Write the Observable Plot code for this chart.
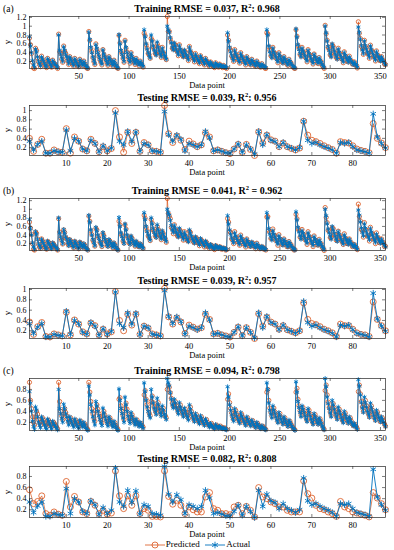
<!DOCTYPE html>
<html><head><meta charset="utf-8">
<script src="https://cdn.jsdelivr.net/npm/d3@7"></script>
<script src="https://cdn.jsdelivr.net/npm/@observablehq/plot@0.6"></script>
<style>
body{margin:0;background:#fff;}
#root{position:relative;width:394px;height:550px;font-family:"Liberation Serif","Times New Roman",serif;color:#000;}
#root svg text{font-family:"Liberation Serif","Times New Roman",serif !important;}
.panel{position:absolute;left:0;}
.title{position:absolute;left:29px;width:356px;text-align:center;font-weight:bold;font-size:10px;line-height:12px;white-space:nowrap;}
.title sup{font-size:6.5px;line-height:0;}
.tag{position:absolute;left:3px;font-size:9.5px;line-height:12px;}
.xlab{position:absolute;left:29px;width:356px;text-align:center;font-size:8.5px;line-height:10px;}
.ylab{position:absolute;left:2px;width:10px;height:10px;font-size:9px;line-height:10px;text-align:center;transform:rotate(-90deg);}
.legend{position:absolute;top:539px;left:0;width:394px;text-align:center;font-size:9px;line-height:11px;white-space:nowrap;}
.legend svg{vertical-align:middle;}
</style></head>
<body><div id="root"></div>
<script>
// ---- Data ----
const trainActual = [
0.76,0.55,0.40,0.22,0.12,0.07,0.48,0.42,0.30,0.20,0.14,0.10,0.30,0.25,0.20,0.15,0.10,0.08,0.26,0.22,0.17,0.12,0.08,0.22,0.18,0.15,0.12,0.09,0.06,
0.80,0.45,0.36,0.27,0.20,0.53,0.45,0.36,0.30,0.22,0.15,0.30,0.25,0.20,0.15,0.11,0.26,0.21,0.16,0.12,0.09,0.24,0.20,0.15,0.11,0.20,0.15,0.10,0.07,0.05,
0.86,0.70,0.52,0.40,0.30,0.22,0.15,0.58,0.50,0.40,0.32,0.25,0.19,0.14,0.46,0.37,0.30,0.24,0.18,0.13,0.30,0.25,0.20,0.15,0.11,0.22,0.16,0.11,0.07,0.05,
0.81,0.60,0.45,0.36,0.28,0.20,0.66,0.52,0.40,0.31,0.24,0.18,0.38,0.31,0.25,0.20,0.15,0.26,0.21,0.16,0.12,0.20,0.16,0.12,0.09,
0.92,0.76,0.60,0.48,0.40,0.33,0.28,0.80,0.66,0.55,0.46,0.40,0.34,0.64,0.52,0.44,0.37,0.31,0.50,0.42,0.35,0.30,0.25,
1.00,0.92,0.86,0.74,0.62,0.52,0.46,0.62,0.55,0.47,0.41,0.35,0.56,0.48,0.42,0.36,0.30,0.46,0.40,0.34,0.29,0.24,0.52,0.44,0.37,0.31,0.26,0.21,0.36,0.31,0.26,0.21,0.17,0.32,0.27,0.22,0.18,0.14,0.26,0.22,0.18,0.14,0.11,0.18,0.15,0.12,0.10,0.08,0.16,0.13,0.11,0.09,0.13,0.11,0.09,0.08,0.10,0.08,0.07,0.06,
0.85,0.66,0.52,0.42,0.34,0.27,0.22,0.45,0.38,0.32,0.27,0.22,0.18,0.38,0.32,0.27,0.22,0.18,0.14,0.30,0.25,0.21,0.17,0.13,0.24,0.20,0.16,0.13,0.10,0.20,0.16,0.13,0.10,0.08,0.14,0.11,0.09,0.07,0.06,
0.92,0.80,0.55,0.42,0.35,0.28,0.50,0.42,0.36,0.30,0.24,0.19,0.38,0.32,0.26,0.21,0.16,0.30,0.25,0.20,0.16,0.12,0.24,0.20,0.16,0.12,0.09,0.07,0.05,
0.94,0.75,0.58,0.47,0.38,0.30,0.50,0.44,0.38,0.32,0.26,0.21,0.45,0.38,0.32,0.26,0.21,0.16,0.36,0.30,0.25,0.20,0.16,0.28,0.23,0.18,0.13,0.09,0.06,
1.00,0.85,0.66,0.54,0.45,0.37,0.30,0.60,0.52,0.44,0.37,0.31,0.25,0.48,0.41,0.35,0.29,0.24,0.19,0.40,0.34,0.28,0.23,0.18,0.30,0.25,0.20,0.16,0.13,0.18,0.14,0.10,0.07,
0.98,0.86,0.70,0.56,0.46,0.38,0.66,0.56,0.48,0.41,0.35,0.29,0.55,0.47,0.40,0.34,0.28,0.23,0.42,0.36,0.30,0.25,0.21,0.30,0.25,0.20,0.16,0.12];

const trainPredA = [
0.73,0.58,0.38,0.18,0.05,0.04,0.50,0.45,0.28,0.19,0.13,0.08,0.32,0.24,0.19,0.14,0.09,0.06,0.27,0.21,0.16,0.11,0.07,0.23,0.17,0.14,0.11,0.08,0.04,
0.82,0.42,0.38,0.25,0.18,0.55,0.43,0.38,0.28,0.21,0.13,0.31,0.24,0.19,0.14,0.09,0.27,0.20,0.15,0.11,0.08,0.25,0.19,0.14,0.10,0.21,0.14,0.09,0.05,0.04,
0.88,0.68,0.50,0.42,0.29,0.20,0.13,0.60,0.48,0.41,0.31,0.24,0.18,0.12,0.47,0.36,0.29,0.23,0.17,0.11,0.31,0.24,0.19,0.14,0.09,0.23,0.15,0.10,0.06,0.04,
0.79,0.62,0.43,0.37,0.27,0.18,0.68,0.50,0.41,0.30,0.23,0.16,0.40,0.30,0.24,0.19,0.13,0.27,0.20,0.15,0.10,0.21,0.15,0.11,0.07,
0.84,0.78,0.58,0.50,0.38,0.35,0.27,0.72,0.68,0.53,0.48,0.38,0.36,0.60,0.54,0.42,0.39,0.29,0.52,0.40,0.37,0.28,0.24,
1.22,0.88,0.88,0.72,0.64,0.50,0.48,0.60,0.57,0.45,0.43,0.33,0.58,0.46,0.44,0.34,0.31,0.44,0.42,0.32,0.30,0.22,0.54,0.42,0.39,0.29,0.27,0.19,0.38,0.29,0.27,0.19,0.15,0.33,0.25,0.23,0.16,0.12,0.27,0.20,0.19,0.12,0.09,0.19,0.13,0.11,0.08,0.06,0.17,0.11,0.10,0.07,0.14,0.09,0.08,0.06,0.11,0.07,0.06,0.04,
0.80,0.68,0.50,0.44,0.32,0.28,0.20,0.47,0.36,0.33,0.25,0.23,0.16,0.40,0.30,0.28,0.20,0.19,0.12,0.31,0.23,0.22,0.15,0.12,0.25,0.18,0.17,0.11,0.09,0.21,0.14,0.14,0.08,0.07,0.15,0.09,0.08,0.05,0.04,
0.85,0.82,0.53,0.45,0.33,0.30,0.52,0.40,0.38,0.28,0.26,0.17,0.40,0.30,0.28,0.19,0.17,0.31,0.23,0.21,0.14,0.11,0.25,0.18,0.17,0.10,0.08,0.05,0.04,
0.92,0.77,0.56,0.49,0.36,0.32,0.52,0.42,0.40,0.30,0.28,0.19,0.47,0.36,0.34,0.24,0.22,0.14,0.37,0.28,0.26,0.18,0.15,0.29,0.21,0.19,0.11,0.08,0.04,
1.02,0.83,0.68,0.52,0.47,0.35,0.32,0.58,0.54,0.42,0.39,0.29,0.26,0.50,0.39,0.37,0.27,0.25,0.17,0.42,0.32,0.30,0.21,0.19,0.32,0.23,0.21,0.14,0.14,0.19,0.12,0.11,0.05,
1.10,0.84,0.72,0.54,0.48,0.36,0.68,0.54,0.50,0.39,0.37,0.27,0.57,0.45,0.42,0.32,0.30,0.21,0.44,0.34,0.32,0.23,0.22,0.31,0.23,0.21,0.14,0.13];

const trainPredB = [
0.70,0.56,0.41,0.20,0.07,0.05,0.47,0.44,0.31,0.18,0.12,0.09,0.31,0.26,0.18,0.13,0.10,0.07,0.25,0.23,0.15,0.11,0.09,0.21,0.19,0.13,0.12,0.08,0.05,
0.78,0.47,0.34,0.28,0.19,0.52,0.46,0.34,0.31,0.20,0.16,0.29,0.26,0.18,0.16,0.10,0.25,0.22,0.14,0.13,0.08,0.23,0.21,0.13,0.12,0.19,0.16,0.09,0.08,0.05,
0.84,0.72,0.50,0.41,0.28,0.23,0.14,0.56,0.52,0.38,0.33,0.23,0.20,0.13,0.44,0.38,0.28,0.25,0.16,0.14,0.28,0.26,0.18,0.16,0.10,0.21,0.17,0.10,0.08,0.05,
0.72,0.63,0.43,0.38,0.26,0.21,0.64,0.54,0.38,0.33,0.22,0.19,0.36,0.32,0.23,0.21,0.14,0.24,0.22,0.14,0.13,0.19,0.17,0.11,0.09,
0.86,0.79,0.58,0.50,0.38,0.34,0.27,0.76,0.68,0.52,0.48,0.38,0.35,0.60,0.53,0.41,0.38,0.29,0.48,0.43,0.33,0.31,0.23,
1.25,0.90,0.84,0.78,0.58,0.54,0.43,0.64,0.52,0.48,0.38,0.37,0.53,0.50,0.39,0.38,0.28,0.48,0.38,0.36,0.27,0.26,0.49,0.46,0.34,0.33,0.24,0.22,0.34,0.33,0.23,0.22,0.15,0.30,0.28,0.20,0.19,0.12,0.24,0.23,0.13,0.15,0.09,0.17,0.16,0.10,0.10,0.06,0.15,0.14,0.09,0.10,0.12,0.12,0.07,0.08,0.09,0.09,0.05,0.06,
0.78,0.70,0.49,0.45,0.31,0.29,0.20,0.48,0.35,0.34,0.24,0.24,0.16,0.40,0.29,0.29,0.19,0.20,0.12,0.31,0.22,0.23,0.14,0.14,0.22,0.21,0.14,0.14,0.08,0.21,0.13,0.14,0.08,0.09,0.12,0.12,0.07,0.08,0.05,
0.82,0.83,0.51,0.46,0.32,0.31,0.54,0.39,0.39,0.27,0.27,0.16,0.41,0.29,0.29,0.18,0.18,0.31,0.22,0.22,0.13,0.13,0.25,0.17,0.18,0.10,0.10,0.05,0.06,
0.88,0.78,0.55,0.50,0.35,0.33,0.53,0.41,0.41,0.29,0.29,0.18,0.48,0.35,0.35,0.23,0.23,0.13,0.38,0.27,0.27,0.17,0.17,0.30,0.20,0.20,0.11,0.10,0.04,
1.04,0.81,0.69,0.51,0.48,0.34,0.33,0.57,0.55,0.41,0.40,0.28,0.27,0.49,0.40,0.36,0.28,0.24,0.18,0.43,0.31,0.31,0.20,0.20,0.31,0.22,0.22,0.13,0.15,0.18,0.13,0.11,0.06,
1.12,0.83,0.73,0.53,0.49,0.35,0.69,0.53,0.51,0.38,0.38,0.26,0.58,0.44,0.43,0.31,0.31,0.20,0.45,0.33,0.33,0.22,0.23,0.31,0.22,0.22,0.13,0.14];

const trainPredC = [
0.93,0.60,0.45,0.30,0.20,0.15,0.30,0.40,0.35,0.25,0.20,0.15,0.22,0.28,0.24,0.19,0.15,0.12,0.18,0.24,0.20,0.16,0.12,0.16,0.20,0.17,0.14,0.11,0.08,
0.93,0.58,0.40,0.32,0.25,0.35,0.45,0.38,0.32,0.26,0.20,0.22,0.28,0.23,0.19,0.15,0.18,0.24,0.20,0.16,0.12,0.17,0.22,0.18,0.14,0.15,0.17,0.13,0.09,0.07,
0.93,0.75,0.58,0.45,0.36,0.28,0.22,0.42,0.52,0.44,0.36,0.30,0.24,0.19,0.32,0.40,0.33,0.27,0.22,0.17,0.22,0.28,0.23,0.18,0.14,0.16,0.19,0.14,0.10,0.07,
0.62,0.65,0.50,0.40,0.32,0.25,0.45,0.55,0.44,0.35,0.28,0.22,0.28,0.34,0.28,0.23,0.18,0.20,0.24,0.19,0.15,0.16,0.18,0.14,0.11,
0.70,0.78,0.62,0.52,0.44,0.37,0.32,0.58,0.68,0.56,0.48,0.42,0.37,0.50,0.56,0.46,0.40,0.34,0.42,0.46,0.38,0.32,0.28,
0.80,0.88,0.84,0.74,0.64,0.55,0.49,0.52,0.58,0.50,0.44,0.38,0.46,0.52,0.45,0.39,0.33,0.38,0.44,0.38,0.32,0.27,0.38,0.48,0.40,0.34,0.28,0.23,0.28,0.34,0.28,0.23,0.19,0.25,0.30,0.25,0.20,0.16,0.20,0.25,0.20,0.16,0.13,0.15,0.18,0.14,0.11,0.09,0.13,0.15,0.12,0.10,0.11,0.13,0.10,0.09,0.09,0.10,0.08,0.07,
0.62,0.72,0.56,0.45,0.37,0.30,0.25,0.36,0.42,0.35,0.29,0.24,0.20,0.30,0.35,0.29,0.24,0.20,0.16,0.24,0.28,0.23,0.19,0.15,0.19,0.23,0.18,0.14,0.11,0.16,0.18,0.14,0.11,0.09,0.11,0.13,0.10,0.08,0.07,
0.75,0.80,0.60,0.46,0.38,0.31,0.40,0.46,0.39,0.33,0.27,0.21,0.30,0.36,0.29,0.23,0.18,0.24,0.28,0.22,0.17,0.13,0.19,0.22,0.17,0.13,0.10,0.08,0.06,
0.75,0.82,0.62,0.50,0.41,0.33,0.40,0.47,0.41,0.35,0.28,0.23,0.36,0.42,0.35,0.28,0.23,0.18,0.30,0.34,0.28,0.22,0.17,0.23,0.26,0.20,0.15,0.10,0.07,
0.78,0.88,0.70,0.57,0.47,0.39,0.32,0.46,0.54,0.46,0.39,0.33,0.27,0.39,0.44,0.37,0.31,0.25,0.21,0.32,0.37,0.30,0.24,0.19,0.25,0.28,0.22,0.17,0.14,0.15,0.16,0.12,0.08,
0.76,0.88,0.72,0.58,0.48,0.40,0.52,0.60,0.50,0.43,0.36,0.30,0.45,0.50,0.42,0.35,0.29,0.24,0.35,0.39,0.32,0.26,0.21,0.25,0.28,0.22,0.17,0.13];

const testActual = [
0.34,0.15,0.27,0.34,0.08,0.08,0.13,0.11,0.10,0.58,
0.13,0.40,0.34,0.17,0.13,0.36,0.29,0.11,0.24,0.13,
0.19,0.95,0.34,0.26,0.55,0.33,0.54,0.12,0.29,0.26,
0.13,0.12,0.10,0.98,0.48,0.34,0.47,0.38,0.13,0.29,
0.26,0.22,0.26,0.55,0.41,0.13,0.15,0.12,0.09,0.08,
0.17,0.28,0.10,0.26,0.17,0.06,0.55,0.26,0.48,0.36,
0.33,0.22,0.31,0.22,0.19,0.15,0.20,0.77,0.36,0.29,
0.31,0.26,0.22,0.19,0.15,0.08,0.31,0.29,0.31,0.22,
0.15,0.13,0.11,0.08,0.93,0.43,0.29,0.19];

const testPredA = [
0.40,0.12,0.27,0.38,0.08,0.08,0.15,0.11,0.10,0.61,
0.08,0.43,0.34,0.17,0.13,0.38,0.29,0.11,0.22,0.13,
0.18,1.00,0.43,0.10,0.53,0.29,0.53,0.12,0.31,0.26,
0.13,0.12,0.10,1.11,0.50,0.31,0.45,0.36,0.16,0.34,
0.28,0.22,0.26,0.52,0.43,0.13,0.15,0.12,0.09,0.07,
0.17,0.27,0.10,0.27,0.16,0.03,0.54,0.30,0.47,0.37,
0.34,0.22,0.30,0.22,0.18,0.15,0.19,0.77,0.47,0.36,
0.33,0.29,0.24,0.20,0.16,0.08,0.33,0.31,0.30,0.24,
0.17,0.14,0.12,0.09,0.72,0.40,0.30,0.20];

const testPredB = [
0.37,0.13,0.28,0.36,0.09,0.08,0.14,0.12,0.10,0.56,
0.12,0.41,0.33,0.18,0.14,0.35,0.30,0.12,0.23,0.14,
0.18,0.96,0.40,0.20,0.52,0.31,0.52,0.13,0.29,0.25,
0.14,0.12,0.10,1.02,0.47,0.33,0.45,0.37,0.15,0.31,
0.27,0.23,0.26,0.52,0.42,0.14,0.15,0.12,0.10,0.08,
0.17,0.27,0.11,0.26,0.17,0.05,0.53,0.29,0.46,0.37,
0.33,0.23,0.30,0.22,0.19,0.16,0.20,0.74,0.42,0.34,
0.32,0.28,0.23,0.20,0.16,0.09,0.33,0.30,0.30,0.23,
0.16,0.13,0.12,0.09,0.76,0.42,0.30,0.20];

const testPredC = [
0.56,0.31,0.35,0.45,0.13,0.10,0.16,0.12,0.10,0.71,
0.25,0.44,0.34,0.16,0.13,0.35,0.28,0.13,0.19,0.12,
0.14,0.90,0.45,0.22,0.45,0.28,0.45,0.13,0.22,0.19,
0.08,0.08,0.07,0.90,0.44,0.30,0.37,0.28,0.13,0.25,
0.20,0.16,0.16,0.43,0.51,0.22,0.19,0.13,0.13,0.11,
0.25,0.28,0.13,0.26,0.19,0.07,0.60,0.43,0.40,0.34,
0.31,0.25,0.25,0.19,0.16,0.16,0.16,0.72,0.49,0.41,
0.28,0.22,0.20,0.16,0.13,0.08,0.35,0.25,0.22,0.16,
0.14,0.12,0.10,0.07,0.51,0.41,0.31,0.20];

const xTicksTrain = [50,100,150,200,250,300,350];
const xTicksTest = [10,20,30,40,50,60,70,80];
const yTicksAB_train = [0.2,0.4,0.6,0.8,1,1.2];
const yTicksAB_test = [0.2,0.4,0.6,0.8,1];
const yTicksC = [0.2,0.4,0.6,0.8];
const titles = [
  "Training RMSE = 0.037, R<sup>2</sup>: 0.968",
  "Testing RMSE = 0.039, R<sup>2</sup>: 0.956",
  "Training RMSE = 0.041, R<sup>2</sup> = 0.962",
  "Testing RMSE = 0.039, R<sup>2</sup>: 0.957",
  "Training RMSE = 0.094, R<sup>2</sup>: 0.798",
  "Testing RMSE = 0.082, R<sup>2</sup>: 0.808"
];
const tags = ["(a)", null, "(b)", null, "(c)", null];
const xLabel = "Data point", yLabel = "y";
const seriesNames = ["Predicted", "Actual"];

// ---- Styles ----
const ORANGE = "#D95319", BLUE = "#0072BD", AXIS = "#262626";
const W = 394, ML = 29, MR = 9, MT = 4, MB = 14;

[[trainPredA, trainActual],[trainPredB, trainActual],[trainPredC, trainActual],
 [testPredA, testActual],[testPredB, testActual],[testPredC, testActual]].forEach(([p,a],k)=>{
  if (p.length !== a.length) throw new Error("length mismatch in series " + k + ": " + p.length + " vs " + a.length);
});

const panels = [
  {top:16, bottom:68, actual:trainActual, pred:trainPredA, xt:xTicksTrain, yt:yTicksAB_train, train:true},
  {top:105, bottom:155, actual:testActual, pred:testPredA, xt:xTicksTest, yt:yTicksAB_test, train:false},
  {top:198, bottom:250, actual:trainActual, pred:trainPredB, xt:xTicksTrain, yt:yTicksAB_train, train:true},
  {top:288, bottom:338, actual:testActual, pred:testPredB, xt:xTicksTest, yt:yTicksAB_test, train:false},
  {top:378, bottom:430, actual:trainActual, pred:trainPredC, xt:xTicksTrain, yt:yTicksC, train:true},
  {top:466, bottom:517, actual:testActual, pred:testPredC, xt:xTicksTest, yt:yTicksC, train:false}
];

const root = document.getElementById("root");
const fmt = d3.format("~g");

panels.forEach((pn, k) => {
  const data = pn.actual.map((v, i) => ({i: i + 1, actual: v, pred: pn.pred[i]}));
  const ph = pn.bottom - pn.top;
  const pw = W - ML - MR;
  const ext = d3.extent(pn.actual.concat(pn.pred));
  const rDot = pn.train ? 2.1 : 3;
  const rStar = pn.train ? 2.2 : 3;
  const chart = Plot.plot({
    width: W, height: ph + MT + MB,
    marginLeft: ML, marginRight: MR, marginTop: MT, marginBottom: MB,
    style: {fontFamily: "'Liberation Serif', 'Times New Roman', serif", fontSize: "8px", color: "#000", background: "transparent"},
    x: {domain: [1, pn.actual.length], axis: null},
    y: {domain: ext, axis: null},
    marks: [
      Plot.line(data, {x: "i", y: "pred", stroke: ORANGE, strokeWidth: 0.7}),
      Plot.dot(data, {x: "i", y: "pred", r: rDot, stroke: ORANGE, fill: "none", strokeWidth: 0.8}),
      Plot.line(data, {x: "i", y: "actual", stroke: BLUE, strokeWidth: 0.9}),
      Plot.dot(data, {x: "i", y: "actual", symbol: "asterisk", r: rStar, stroke: BLUE, strokeWidth: 0.9}),
      Plot.frame({stroke: AXIS, strokeWidth: 0.7}),
      Plot.tickX(pn.xt, {x: d => d, insetTop: ph - 3, stroke: AXIS, strokeWidth: 0.6}),
      Plot.tickX(pn.xt, {x: d => d, insetBottom: ph - 3, stroke: AXIS, strokeWidth: 0.6}),
      Plot.tickY(pn.yt, {y: d => d, insetRight: pw - 3, stroke: AXIS, strokeWidth: 0.6}),
      Plot.tickY(pn.yt, {y: d => d, insetLeft: pw - 3, stroke: AXIS, strokeWidth: 0.6}),
      Plot.axisX(pn.xt, {tickSize: 0, tickPadding: 4, tickFormat: fmt, label: null, fontSize: 8.5}),
      Plot.axisY(pn.yt, {tickSize: 0, tickPadding: 3, tickFormat: fmt, label: null, fontSize: 8})
    ]
  });
  const div = document.createElement("div");
  div.className = "panel";
  div.style.top = (pn.top - MT) + "px";
  div.appendChild(chart);
  root.appendChild(div);

  const t = document.createElement("div");
  t.className = "title";
  t.style.top = (pn.top - 13) + "px";
  t.innerHTML = titles[k];
  root.appendChild(t);
  if (tags[k]) {
    const g = document.createElement("div");
    g.className = "tag";
    g.style.top = (pn.top - 13) + "px";
    g.textContent = tags[k];
    root.appendChild(g);
  }
  const xl = document.createElement("div");
  xl.className = "xlab";
  xl.style.top = (pn.bottom + 12) + "px";
  xl.textContent = xLabel;
  root.appendChild(xl);
  const yl = document.createElement("div");
  yl.className = "ylab";
  yl.style.top = ((pn.top + pn.bottom) / 2 - 5) + "px";
  yl.textContent = yLabel;
  root.appendChild(yl);
});

// legend
const leg = document.createElement("div");
leg.className = "legend";
leg.innerHTML =
  `<svg width="22" height="10"><line x1="1" x2="21" y1="5" y2="5" stroke="${ORANGE}" stroke-width="0.8"/><circle cx="11" cy="5" r="3" fill="none" stroke="${ORANGE}" stroke-width="0.8"/></svg>${seriesNames[0]}` +
  `&nbsp;&nbsp;<svg width="22" height="10" id="legstar"><line x1="1" x2="21" y1="5" y2="5" stroke="${BLUE}" stroke-width="0.9"/></svg>${seriesNames[1]}`;
root.appendChild(leg);
d3.select("#legstar").append("path")
  .attr("transform", "translate(11,5)")
  .attr("d", d3.symbol(d3.symbolAsterisk, 30)())
  .attr("stroke", BLUE).attr("stroke-width", 0.9).attr("fill", "none");
</script></body></html>
